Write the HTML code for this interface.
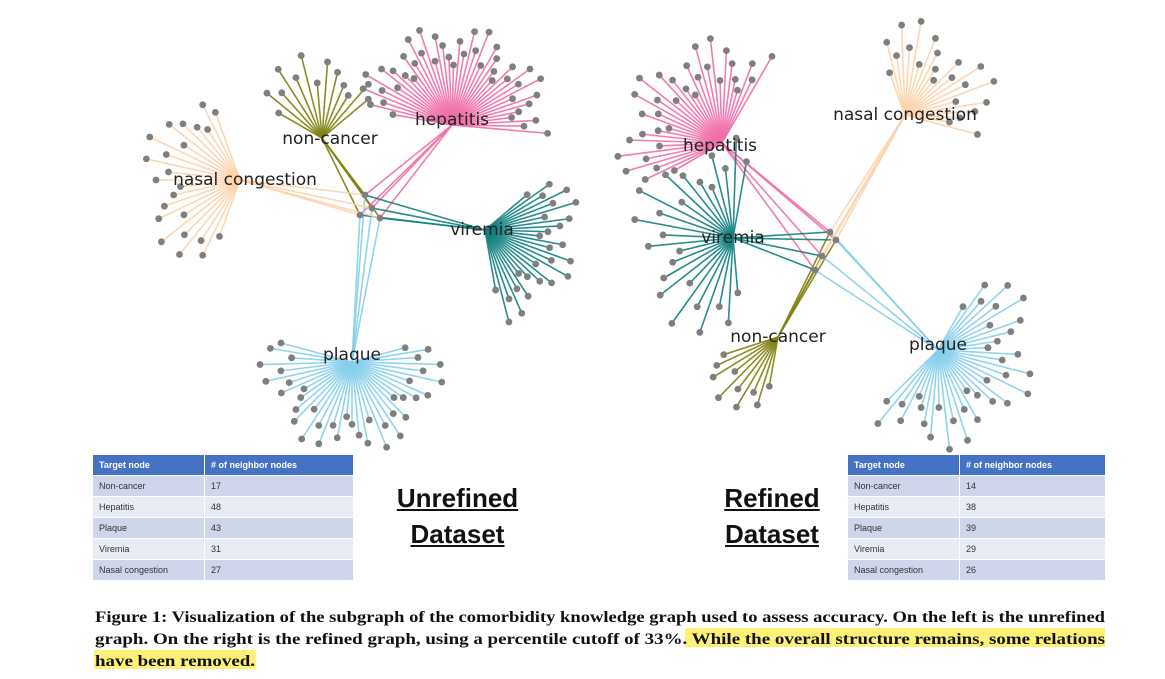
<!DOCTYPE html>
<html><head><meta charset="utf-8">
<style>
html,body{margin:0;padding:0;background:#fff;}
body{width:1165px;height:679px;position:relative;overflow:hidden;font-family:"Liberation Sans",sans-serif;}
svg{position:absolute;left:0;top:0;}
table{position:absolute;border-collapse:collapse;font-size:9px;color:#333;}
table td,table th{height:20px;padding:0 0 0 6px;text-align:left;border-bottom:1px solid #fff;border-right:1px solid #fff;}
th{background:#4472c4;color:#fff;font-weight:bold;font-size:9px;}
tr.a td{background:#cfd5ea;} tr.b td{background:#e9ebf5;}
.big{position:absolute;font-weight:bold;font-size:26px;text-decoration:underline;color:#111;text-align:center;line-height:36px;}
</style></head>
<body>
<svg id="g" width="1165" height="679"></svg>

<table style="left:93px;top:455px;width:261px">
<tr><th style="width:105px">Target node</th><th># of neighbor nodes</th></tr>
<tr class="a"><td>Non-cancer</td><td>17</td></tr>
<tr class="b"><td>Hepatitis</td><td>48</td></tr>
<tr class="a"><td>Plaque</td><td>43</td></tr>
<tr class="b"><td>Viremia</td><td>31</td></tr>
<tr class="a"><td>Nasal congestion</td><td>27</td></tr>
</table>
<table style="left:848px;top:455px;width:258px">
<tr><th style="width:105px">Target node</th><th># of neighbor nodes</th></tr>
<tr class="a"><td>Non-cancer</td><td>14</td></tr>
<tr class="b"><td>Hepatitis</td><td>38</td></tr>
<tr class="a"><td>Plaque</td><td>39</td></tr>
<tr class="b"><td>Viremia</td><td>29</td></tr>
<tr class="a"><td>Nasal congestion</td><td>26</td></tr>
</table>
<div class="big" style="left:385px;top:480px;width:145px">Unrefined<br>Dataset</div>
<div class="big" style="left:712px;top:480px;width:120px">Refined<br>Dataset</div>

<script>
const NS="http://www.w3.org/2000/svg";
const svg=document.getElementById('g');
const hubNames=["non-cancer","hepatitis","plaque","viremia","nasal congestion"];
const unrefinedCounts=[17,48,43,31,27];
const refinedCounts=[14,38,39,29,26];
const colors=["#7f7f10","#f06eaa","#87ceeb","#128080","#fdd2ab"];
// layout: [x,y,angStart,angEnd,rMin,rMax,labelDx,labelDy]
const leftLayout=[[322,138,-150,-40,50,85,8,6],[452,125,-170,5,60,100,0,0],[352,362,-15,195,55,92,0,-2],[485,230,-40,80,55,95,-3,5],[240,180,110,250,60,100,5,5]];
const rightLayout=[[778,337,100,162,50,85,0,5],[722,143,150,300,55,105,-2,8],[938,350,-60,135,50,100,0,0],[733,238,85,280,55,105,0,5],[905,115,-110,15,45,95,0,5]];
const leftShared=[[365,195],[372,208],[380,218],[360,215]];
const rightShared=[[830,232],[836,240],[822,256],[815,270]];
const pat=[0,0.6,0.3,0.9,0.45,1,0.15,0.75,0.5,0.2];
function el(t){const e=document.createElementNS(NS,t);svg.appendChild(e);return e;}
const edgeG=el('g');
const nodeG=el('g');
const labG=el('g');
function line(x1,y1,x2,y2,c){const l=document.createElementNS(NS,'line');
l.setAttribute('x1',x1);l.setAttribute('y1',y1);l.setAttribute('x2',x2);l.setAttribute('y2',y2);
l.setAttribute('stroke',c);l.setAttribute('stroke-width',1.6);l.setAttribute('stroke-opacity',0.9);
edgeG.appendChild(l);}
function dot(x,y){const c=document.createElementNS(NS,'circle');c.setAttribute('cx',x);c.setAttribute('cy',y);c.setAttribute('r',3.4);c.setAttribute('fill','#7f7f7f');
nodeG.appendChild(c);}
function draw(layout,counts,shared,side){
  layout.forEach((L,h)=>{
    const n=counts[h]-shared.length;
    for(let i=0;i<n;i++){
      const a=(L[2]+(L[3]-L[2])*(n>1?i/(n-1):0.5))*Math.PI/180;
      const r=L[4]+(L[5]-L[4])*pat[i%pat.length];
      const x=L[0]+r*Math.cos(a),y=L[1]+r*Math.sin(a);
      line(L[0],L[1],x,y,colors[h]);dot(x,y);
    }
    shared.forEach(s=>line(L[0],L[1],s[0],s[1],colors[h]));
  });
  shared.forEach(s=>dot(s[0],s[1]));
  layout.forEach((L,h)=>{const t=document.createElementNS(NS,'text');
    t.setAttribute('x',L[0]+L[6]);t.setAttribute('y',L[1]+L[7]);t.setAttribute('font-size',17);
    t.setAttribute('text-anchor','middle');
    t.setAttribute('font-family','DejaVu Sans, sans-serif');t.setAttribute('fill','#222');
    
    t.textContent=hubNames[h];labG.appendChild(t);});
}
draw(leftLayout,unrefinedCounts,leftShared,'unrefined');
draw(rightLayout,refinedCounts,rightShared,'refined');
</script>
<svg width="1165" height="679" style="pointer-events:none">
<rect x="685" y="628" width="420" height="19" fill="#fff176"/>
<rect x="94" y="650" width="162" height="19" fill="#fff176"/>
<g font-family="Liberation Serif, serif" font-weight="bold" font-size="16" fill="#111">
<text x="95" y="622" textLength="1010" lengthAdjust="spacingAndGlyphs">Figure 1: Visualization of the subgraph of the comorbidity knowledge graph used to assess accuracy. On the left is the unrefined</text>
<text x="95" y="644" textLength="1010" lengthAdjust="spacingAndGlyphs">graph. On the right is the refined graph, using a percentile cutoff of 33%. While the overall structure remains, some relations</text>
<text x="95" y="666" textLength="160" lengthAdjust="spacingAndGlyphs">have been removed.</text>
</g></svg>
</body></html>
